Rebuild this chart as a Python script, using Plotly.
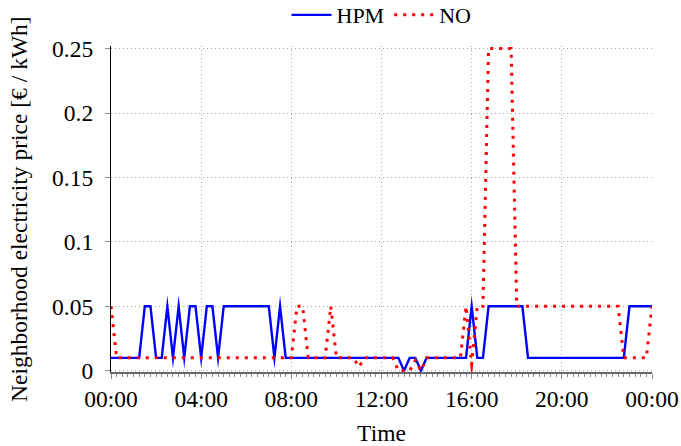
import plotly.graph_objects as go

# 15-minute steps over one day, in hours (0 .. 24)
time_h = [i * 0.25 for i in range(97)]

hpm = [
    0.01, 0.01, 0.01, 0.01,   # 00:00
    0.01, 0.01, 0.05, 0.05,   # 01:00
    0.01, 0.01, 0.05, 0.01,   # 02:00
    0.05, 0.01, 0.05, 0.05,   # 03:00
    0.01, 0.05, 0.05, 0.01,   # 04:00
    0.05, 0.05, 0.05, 0.05,   # 05:00
    0.05, 0.05, 0.05, 0.05,   # 06:00
    0.05, 0.01, 0.05, 0.01,   # 07:00
    0.01, 0.01, 0.01, 0.01,   # 08:00
    0.01, 0.01, 0.01, 0.01,   # 09:00
    0.01, 0.01, 0.01, 0.01,   # 10:00
    0.01, 0.01, 0.01, 0.01,   # 11:00
    0.01, 0.01, 0.01, 0.01,   # 12:00
    0.00, 0.01, 0.01, 0.00,   # 13:00
    0.01, 0.01, 0.01, 0.01,   # 14:00
    0.01, 0.01, 0.01, 0.01,   # 15:00
    0.05, 0.01, 0.01, 0.05,   # 16:00
    0.05, 0.05, 0.05, 0.05,   # 17:00
    0.05, 0.05, 0.01, 0.01,   # 18:00
    0.01, 0.01, 0.01, 0.01,   # 19:00
    0.01, 0.01, 0.01, 0.01,   # 20:00
    0.01, 0.01, 0.01, 0.01,   # 21:00
    0.01, 0.01, 0.01, 0.01,   # 22:00
    0.05, 0.05, 0.05, 0.05,   # 23:00
    0.05,                     # 24:00
]

no = [
    0.05, 0.01, 0.01, 0.01,   # 00:00
    0.01, 0.01, 0.01, 0.01,   # 01:00
    0.01, 0.01, 0.01, 0.01,   # 02:00
    0.01, 0.01, 0.01, 0.01,   # 03:00
    0.01, 0.01, 0.01, 0.01,   # 04:00
    0.01, 0.01, 0.01, 0.01,   # 05:00
    0.01, 0.01, 0.01, 0.01,   # 06:00
    0.01, 0.01, 0.01, 0.01,   # 07:00
    0.01, 0.05, 0.05, 0.01,   # 08:00
    0.01, 0.01, 0.01, 0.05,   # 09:00
    0.01, 0.01, 0.01, 0.01,   # 10:00
    0.003, 0.01, 0.01, 0.01,  # 11:00
    0.01, 0.01, 0.01, 0.00,   # 12:00
    0.00, 0.00, 0.008, 0.00,  # 13:00
    0.01, 0.01, 0.01, 0.01,   # 14:00
    0.01, 0.01, 0.01, 0.05,   # 15:00
    0.005, 0.05, 0.05, 0.25,  # 16:00
    0.25, 0.25, 0.25, 0.25,   # 17:00
    0.05, 0.05, 0.05, 0.05,   # 18:00
    0.05, 0.05, 0.05, 0.05,   # 19:00
    0.05, 0.05, 0.05, 0.05,   # 20:00
    0.05, 0.05, 0.05, 0.05,   # 21:00
    0.05, 0.05, 0.05, 0.01,   # 22:00
    0.01, 0.01, 0.01, 0.01,   # 23:00
    0.05,                     # 24:00
]

x_tick_vals = [0, 4, 8, 12, 16, 20, 24]
x_tick_text = ["00:00", "04:00", "08:00", "12:00", "16:00", "20:00", "00:00"]
y_tick_vals = [0, 0.05, 0.1, 0.15, 0.2, 0.25]
y_tick_text = ["0", "0.05", "0.1", "0.15", "0.2", "0.25"]

FONT = "Liberation Serif"
GRID = "#a6a6a6"
TICK = "#8c8c8c"
FS = 23.5

fig = go.Figure()
fig.add_trace(go.Scatter(
    x=time_h, y=hpm, name="HPM", mode="lines",
    line=dict(color="#0000ff", width=2.4),
))
fig.add_trace(go.Scatter(
    x=time_h, y=no, name="NO", mode="lines",
    line=dict(color="#ff0000", width=3, dash="3px,6px"),
))

fig.update_layout(
    width=681, height=446,
    margin=dict(l=111, r=29, t=46, b=74, autoexpand=False),
    paper_bgcolor="white", plot_bgcolor="white",
    font=dict(family=FONT, size=FS, color="black"),
    legend=dict(orientation="h", x=0.5, xanchor="center", y=1.095, yanchor="middle",
                font=dict(family=FONT, size=22), bgcolor="rgba(0,0,0,0)",
                itemwidth=40),
    showlegend=True,
    annotations=[dict(
        text="Neighborhood electricity price [€ / kWh]",
        xref="paper", yref="paper", x=0, y=0.50, xshift=-92,
        xanchor="center", yanchor="middle", textangle=-90, showarrow=False,
        font=dict(family=FONT, size=FS, color="black"),
    )],
)
fig.update_xaxes(
    range=[0, 24], tickmode="array", tickvals=x_tick_vals, ticktext=x_tick_text,
    ticks="outside", ticklen=5, tickcolor=TICK, tickwidth=1,
    showline=True, linecolor="#666666", linewidth=1.5,
    showgrid=True, gridcolor=GRID, griddash="1px,3px", gridwidth=1,
    zeroline=False, automargin=False,
    minor=dict(tick0=0, dtick=0.25, ticks="outside", ticklen=3, tickcolor=TICK, showgrid=False),
    title=dict(text="Time", standoff=18, font=dict(family=FONT, size=FS)),
    tickfont=dict(family=FONT, size=FS),
)
fig.update_yaxes(
    range=[-0.001, 0.252], tickmode="array", tickvals=y_tick_vals, ticktext=y_tick_text,
    ticks="outside", ticklen=5, tickcolor=TICK, tickwidth=1,
    showline=True, linecolor="black", linewidth=1.2,
    showgrid=True, gridcolor=GRID, griddash="1px,3px", gridwidth=1,
    zeroline=False, automargin=False, ticklabelstandoff=7,
    tickfont=dict(family=FONT, size=FS),
)

# sharp (mitred) line corners, as in the original vector rendering
post_js = (
    "var s=document.createElement('style');"
    "s.innerHTML='.scatterlayer .js-line{stroke-linejoin:miter !important;stroke-miterlimit:12 !important;}';"
    "document.head.appendChild(s);"
)

fig.write_html("out.html", post_script=post_js)
